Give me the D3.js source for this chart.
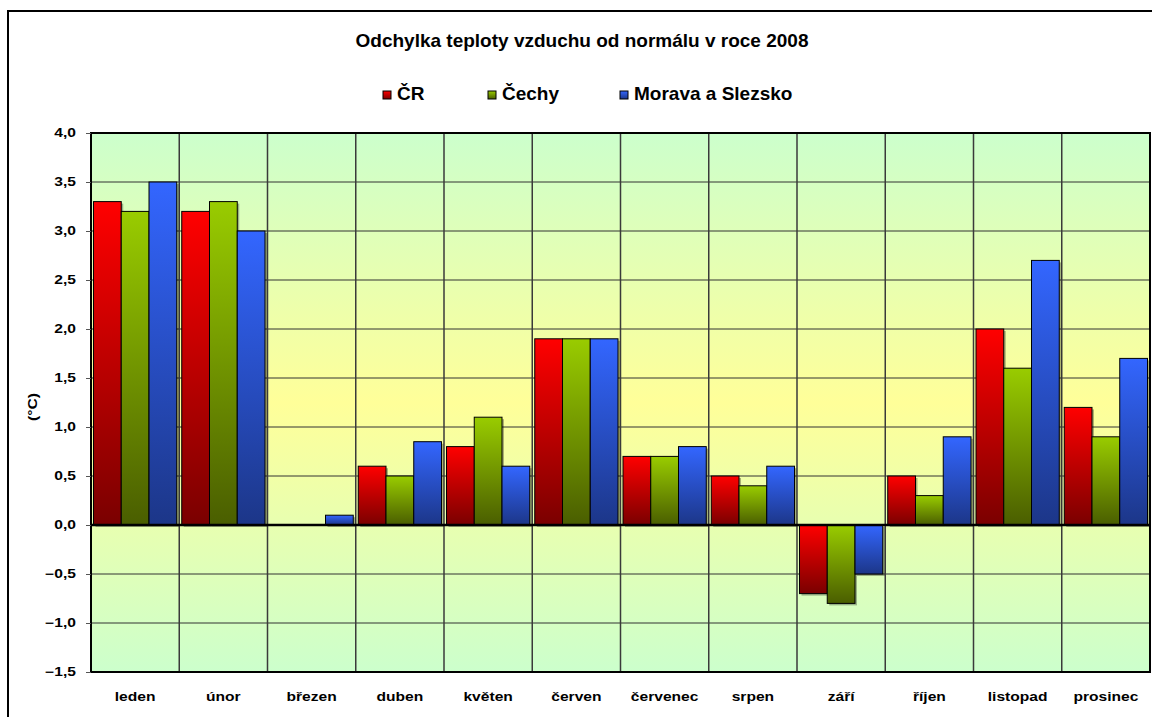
<!DOCTYPE html>
<html>
<head>
<meta charset="utf-8">
<script src="https://cdn.jsdelivr.net/npm/d3@7"></script>
<style>
  body { margin: 0; background: #fff; }
  svg { display: block; font-family: "Liberation Sans", Arial, sans-serif; }
</style>
</head>
<body>
<svg id="chart"></svg>
<script>
// data
var months = ["leden", "únor", "březen", "duben", "květen", "červen", "červenec", "srpen", "září", "říjen", "listopad", "prosinec"];
var seriesNames = ["ČR", "Čechy", "Morava a Slezsko"];
var valuesCR = [3.3, 3.2, 0.0, 0.6, 0.8, 1.9, 0.7, 0.5, -0.7, 0.5, 2.0, 1.2];
var valuesCechy = [3.2, 3.3, 0.0, 0.5, 1.1, 1.9, 0.7, 0.4, -0.8, 0.3, 1.6, 0.9];
var valuesMorava = [3.5, 3.0, 0.1, 0.85, 0.6, 1.9, 0.8, 0.6, -0.5, 0.9, 2.7, 1.7];
var yTicks = [-1.5, -1.0, -0.5, 0.0, 0.5, 1.0, 1.5, 2.0, 2.5, 3.0, 3.5, 4.0];

var width = 1152, height = 717;
var margin = { left: 91, top: 133, right: 2 };
var innerW = width - margin.left - margin.right;
var innerH = 539;
var stretch = 1.3; // the small labels are drawn wide in the original

var svg = d3.select("#chart").attr("width", width).attr("height", height);

var defs = svg.append("defs");

// plot background: green - yellow - green
var bg = defs.append("linearGradient").attr("id", "bg")
    .attr("x1", 0).attr("y1", 0).attr("x2", 0).attr("y2", 1);
bg.append("stop").attr("offset", "0%").attr("stop-color", "#ccffcc");
bg.append("stop").attr("offset", "50%").attr("stop-color", "#ffff99");
bg.append("stop").attr("offset", "100%").attr("stop-color", "#ccffcc");

var barColors = [["#ff0000", "#7a0000"], ["#99cc00", "#4a5e00"], ["#3366ff", "#1c3688"]];
barColors.forEach(function (c, i) {
  var g = defs.append("linearGradient").attr("id", "bar" + i)
      .attr("x1", 0).attr("y1", 0).attr("x2", 0).attr("y2", 1);
  g.append("stop").attr("offset", "0%").attr("stop-color", c[0]);
  g.append("stop").attr("offset", "100%").attr("stop-color", c[1]);
});

// outer chart frame
svg.append("rect")
    .attr("x", 8).attr("y", 11).attr("width", width + 10).attr("height", height + 10)
    .attr("fill", "none").attr("stroke", "#000").attr("stroke-width", 2);

var x = d3.scaleBand().domain(months).range([margin.left, margin.left + innerW]).padding(0);
var xs = d3.scaleBand().domain(seriesNames).range([0, x.bandwidth()]).paddingOuter(0.09).paddingInner(0);
var y = d3.scaleLinear().domain([-1.5, 4]).range([margin.top + innerH, margin.top]);

svg.append("rect")
    .attr("x", margin.left).attr("y", y(4))
    .attr("width", innerW).attr("height", y(-1.5) - y(4))
    .attr("fill", "url(#bg)");

// horizontal grid
svg.append("g").selectAll("line")
  .data(yTicks)
  .enter().append("line")
    .attr("x1", margin.left).attr("x2", margin.left + innerW)
    .attr("y1", function (d) { return y(d); }).attr("y2", function (d) { return y(d); })
    .attr("stroke", "#333").attr("stroke-width", 1);

// vertical category separators
svg.append("g").selectAll("line")
  .data(months.slice(1))
  .enter().append("line")
    .attr("x1", function (d) { return x(d); }).attr("x2", function (d) { return x(d); })
    .attr("y1", y(4)).attr("y2", y(-1.5))
    .attr("stroke", "#3a3a3a").attr("stroke-width", 1.5);

var table = months.map(function (m, i) {
  return { month: m, vals: [valuesCR[i], valuesCechy[i], valuesMorava[i]] };
});

var groups = svg.append("g").selectAll("g")
  .data(table)
  .enter().append("g")
    .attr("transform", function (d) { return "translate(" + x(d.month) + ",0)"; });

var bars = groups.selectAll("g.bar")
  .data(function (d) {
    return d.vals.map(function (v, i) { return { name: seriesNames[i], idx: i, value: v }; });
  })
  .enter().append("g").attr("class", "bar");

// shadow
bars.filter(function (d) { return d.value !== 0; })
  .append("rect")
    .attr("x", function (d) { return xs(d.name) + 2; })
    .attr("y", function (d) { return Math.min(y(d.value), y(0)) + 2; })
    .attr("width", xs.bandwidth())
    .attr("height", function (d) { return Math.abs(y(d.value) - y(0)); })
    .attr("fill", "#000").attr("opacity", 0.3);

bars.filter(function (d) { return d.value !== 0; })
  .append("rect")
    .attr("x", function (d) { return xs(d.name); })
    .attr("y", function (d) { return Math.min(y(d.value), y(0)); })
    .attr("width", xs.bandwidth())
    .attr("height", function (d) { return Math.abs(y(d.value) - y(0)); })
    .attr("fill", function (d) { return "url(#bar" + d.idx + ")"; })
    .attr("stroke", "#000").attr("stroke-width", 1);

// zero line
svg.append("line")
    .attr("x1", margin.left).attr("x2", margin.left + innerW)
    .attr("y1", y(0)).attr("y2", y(0))
    .attr("stroke", "#000").attr("stroke-width", 2.5);

// plot frame
svg.append("rect")
    .attr("x", margin.left).attr("y", y(4))
    .attr("width", innerW).attr("height", y(-1.5) - y(4))
    .attr("fill", "none").attr("stroke", "#000").attr("stroke-width", 2);

// y axis
var fmt = d3.format(".1f");
var yAxis = d3.axisLeft(y).tickValues(yTicks).tickSize(5)
    .tickFormat(function (d) { return fmt(d).replace(".", ","); });
var yG = svg.append("g").attr("transform", "translate(" + margin.left + ",0)").call(yAxis);
yG.select(".domain").remove();
yG.selectAll(".tick line").attr("stroke", "#555");
yG.selectAll(".tick text")
    .attr("x", -15 / stretch)
    .attr("transform", "scale(" + stretch + ",1)")
    .attr("font-size", 12).attr("font-weight", "bold").attr("fill", "#000")
    .attr("font-family", "Liberation Sans, Arial, sans-serif");

// x labels
var xAxis = d3.axisBottom(x).tickSize(0).tickPadding(20);
var xG = svg.append("g").attr("transform", "translate(0," + y(-1.5) + ")").call(xAxis);
xG.select(".domain").remove();
xG.selectAll(".tick text")
    .attr("transform", "scale(" + stretch + ",1)")
    .attr("font-size", 12).attr("font-weight", "bold").attr("fill", "#000")
    .attr("font-family", "Liberation Sans, Arial, sans-serif");

// y title
svg.append("text")
    .attr("transform", "translate(37,407) rotate(-90) scale(" + stretch + ",1)")
    .attr("text-anchor", "middle")
    .attr("font-size", 12).attr("font-weight", "bold")
    .text("(°C)");

// title
svg.append("text")
    .attr("x", 582).attr("y", 47)
    .attr("text-anchor", "middle")
    .attr("font-size", 19).attr("font-weight", "bold")
    .text("Odchylka teploty vzduchu od normálu v roce 2008");

// legend
var legendX = [383, 488, 620];
var legend = svg.append("g").selectAll("g")
  .data(seriesNames)
  .enter().append("g")
    .attr("transform", function (d, i) { return "translate(" + legendX[i] + ",91)"; });
legend.append("rect")
    .attr("width", 8).attr("height", 8)
    .attr("fill", function (d, i) { return "url(#bar" + i + ")"; })
    .attr("stroke", "#000").attr("stroke-width", 1);
legend.append("text")
    .attr("x", 14).attr("y", 9)
    .attr("font-size", 19).attr("font-weight", "bold")
    .text(function (d) { return d; });
</script>
</body>
</html>
